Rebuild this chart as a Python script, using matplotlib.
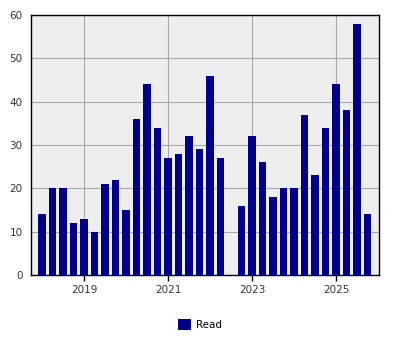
import matplotlib.pyplot as plt
import numpy as np

# quarterly counts, 2018 Q1 .. 2025 Q4
years = [2018, 2019, 2020, 2021, 2022, 2023, 2024, 2025]
read_2018 = [14, 20, 20, 12]
read_2019 = [13, 10, 21, 22]
read_2020 = [15, 36, 44, 34]
read_2021 = [27, 28, 32, 29]
read_2022 = [46, 27, 0, 16]
read_2023 = [32, 26, 18, 20]
read_2024 = [20, 37, 23, 34]
read_2025 = [44, 38, 58, 14]
year_ticks = [2019, 2021, 2023, 2025]
y_ticks = [0, 10, 20, 30, 40, 50, 60]

values = read_2018 + read_2019 + read_2020 + read_2021 + read_2022 + read_2023 + read_2024 + read_2025
x = np.array([y + q * 0.25 for y in years for q in range(4)])

fig = plt.figure(figsize=(4, 3.5), dpi=100)
ax = fig.add_axes([0.0775, 0.2143, 0.87, 0.7427])
ax.set_facecolor('#eeeeee')

ax.bar(x, values, width=0.19, color='#00008b', label='Read', zorder=3)

ax.set_xlim(2017.738, 2026.024)
ax.set_ylim(0, 60)
ax.set_xticks(year_ticks)
ax.set_xticklabels([str(t) for t in year_ticks])
ax.set_yticks(y_ticks)

ax.grid(True, color='#a8a8a8', linewidth=0.8, zorder=0)
for s in ax.spines.values():
    s.set_color('black')
    s.set_linewidth(1)

ax.tick_params(axis='x', length=4, width=1, colors='black', labelcolor='#333333', labelsize=7.5, pad=3)
ax.tick_params(axis='y', length=0, labelcolor='#333333', labelsize=7.5, pad=6)
# small tick at zero only
ax.set_yticks([0], minor=True)
ax.tick_params(axis='y', which='minor', length=6, width=1, colors='black')

fig.legend(loc='lower center', bbox_to_anchor=(0.5, 0.03), frameon=False, fontsize=7.5,
           handlelength=1.2, handleheight=1.2, handletextpad=0.5)

plt.savefig('out.png', dpi=100)
